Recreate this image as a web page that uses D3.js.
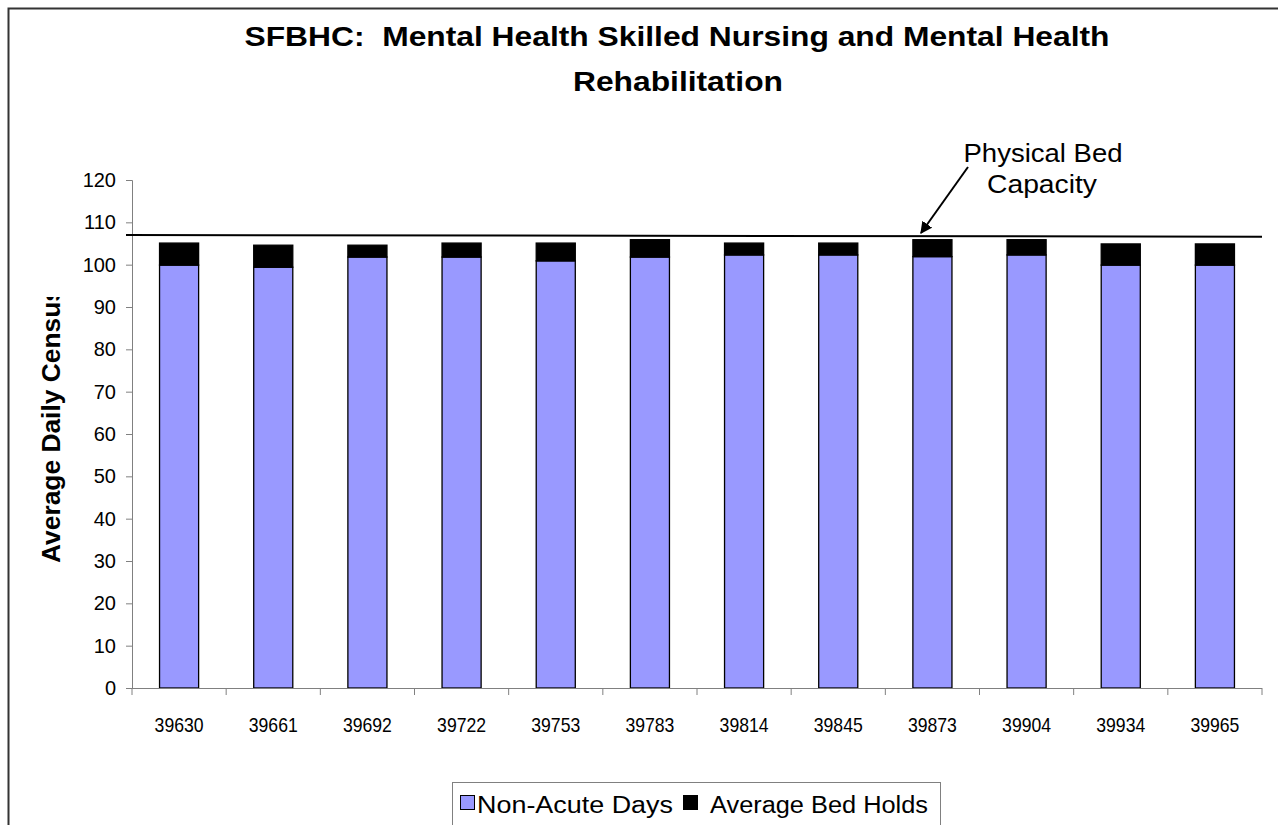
<!DOCTYPE html>
<html>
<head>
<meta charset="utf-8">
<script src="https://cdn.jsdelivr.net/npm/d3@7"></script>
<style>
  html, body { margin: 0; padding: 0; background: #fff; }
  svg { display: block; }
  text { font-family: "Liberation Sans", Arial, sans-serif; fill: #000; }
</style>
</head>
<body>
<svg id="chart" width="1278" height="825"></svg>
<script>
// Monthly census (Excel serial dates as category labels)
const months = ["39630", "39661", "39692", "39722", "39753", "39783",
                "39814", "39845", "39873", "39904", "39934", "39965"];
const nonAcuteDays = [99.9, 99.4, 101.8, 101.8, 100.9, 101.8, 102.3, 102.3, 101.9, 102.3, 99.9, 99.9];
const avgBedHolds  = [5.2, 5.2, 2.8, 3.3, 4.2, 4.1, 2.8, 2.8, 4.0, 3.6, 5.0, 5.0];
const yTicks = [0, 10, 20, 30, 40, 50, 60, 70, 80, 90, 100, 110, 120];
// Physical bed capacity line, value at left and right end
const capacityEnds = [107.0, 106.6];

const seriesNames = ["Non-Acute Days", "Average Bed Holds"];
const seriesColors = ["#9999FF", "#000000"];

const svg = d3.select("#chart");

// Outer chart frame
svg.append("rect")
  .attr("x", 8.5).attr("y", 8.5)
  .attr("width", 1400).attr("height", 1000)
  .attr("fill", "none").attr("stroke", "#333").attr("stroke-width", 2);

const plot = { left: 132, right: 1262, top: 180, bottom: 688 };

const x = d3.scaleBand()
  .domain(months)
  .range([plot.left, plot.right])
  .paddingInner(0.585)
  .paddingOuter(0.2925);

const y = d3.scaleLinear()
  .domain([0, 120])
  .range([plot.bottom, plot.top]);

// Stacked data
const rows = months.map((m, i) => ({ month: m, nonAcute: nonAcuteDays[i], holds: avgBedHolds[i] }));
const stack = d3.stack().keys(["nonAcute", "holds"])(rows);

// Bars
const g = svg.append("g");
stack.forEach((layer, li) => {
  g.selectAll(null)
    .data(layer)
    .join("rect")
    .attr("x", d => x(d.data.month))
    .attr("width", x.bandwidth())
    .attr("y", d => y(d[1]))
    .attr("height", d => y(d[0]) - y(d[1]))
    .attr("fill", seriesColors[li])
    .attr("stroke", "#000")
    .attr("stroke-width", 1.3);
});

// Y axis
const yAxis = d3.axisLeft(y).tickValues(yTicks).tickSize(6).tickPadding(10);
const yg = svg.append("g").attr("transform", `translate(${plot.left},0)`).call(yAxis);
yg.select(".domain").attr("stroke", "#808080").attr("stroke-width", 1);
yg.selectAll(".tick line").attr("stroke", "#808080");
yg.selectAll(".tick text")
  .style("font-family", "'Liberation Sans', Arial, sans-serif")
  .style("font-size", "20px")
  .attr("fill", "#000");

// X axis: line plus ticks at category boundaries
const xg = svg.append("g");
xg.append("line")
  .attr("x1", plot.left).attr("x2", plot.right)
  .attr("y1", plot.bottom + 0.5).attr("y2", plot.bottom + 0.5)
  .attr("stroke", "#808080");
const step = x.step();
const boundaries = d3.range(months.length + 1).map(i => x(months[0]) - x.paddingOuter() * step + i * step);
xg.selectAll(null)
  .data(boundaries)
  .join("line")
  .attr("x1", d => d).attr("x2", d => d)
  .attr("y1", plot.bottom).attr("y2", plot.bottom + 7)
  .attr("stroke", "#808080");
xg.selectAll(null)
  .data(months)
  .join("text")
  .attr("x", d => x(d) + x.bandwidth() / 2)
  .attr("y", 732)
  .attr("text-anchor", "middle")
  .style("font-family", "'Liberation Sans Narrow', 'Arial Narrow', 'Liberation Sans', sans-serif")
  .style("font-size", "21px")
  .attr("textLength", 49)
  .attr("lengthAdjust", "spacingAndGlyphs")
  .text(d => d);

// Capacity line
svg.append("line")
  .attr("x1", 126).attr("x2", plot.right)
  .attr("y1", y(capacityEnds[0])).attr("y2", y(capacityEnds[1]))
  .attr("stroke", "#000").attr("stroke-width", 2);

// Annotation with arrow
const defs = svg.append("defs");
defs.append("marker")
  .attr("id", "arrowHead")
  .attr("viewBox", "0 0 10 10")
  .attr("refX", 9).attr("refY", 5)
  .attr("markerWidth", 6).attr("markerHeight", 6)
  .attr("orient", "auto")
  .append("path").attr("d", "M0,0 L10,5 L0,10 Z").attr("fill", "#000");

svg.append("line")
  .attr("x1", 968).attr("y1", 167)
  .attr("x2", 921).attr("y2", 233)
  .attr("stroke", "#000").attr("stroke-width", 2)
  .attr("marker-end", "url(#arrowHead)");

svg.append("text")
  .attr("x", 1043).attr("y", 162)
  .attr("text-anchor", "middle")
  .style("font-size", "25px")
  .attr("textLength", 159).attr("lengthAdjust", "spacingAndGlyphs")
  .text("Physical Bed");
svg.append("text")
  .attr("x", 1042).attr("y", 193)
  .attr("text-anchor", "middle")
  .style("font-size", "25px")
  .attr("textLength", 110).attr("lengthAdjust", "spacingAndGlyphs")
  .text("Capacity");

// Title
svg.append("text")
  .attr("x", 677).attr("y", 46)
  .attr("text-anchor", "middle")
  .style("font-size", "27px").style("font-weight", "bold")
  .style("white-space", "pre")
  .attr("textLength", 865).attr("lengthAdjust", "spacingAndGlyphs")
  .text("SFBHC:  Mental Health Skilled Nursing and Mental Health");
svg.append("text")
  .attr("x", 678).attr("y", 91)
  .attr("text-anchor", "middle")
  .style("font-size", "27px").style("font-weight", "bold")
  .attr("textLength", 210).attr("lengthAdjust", "spacingAndGlyphs")
  .text("Rehabilitation");

// Y axis title (clipped at the top)
defs.append("clipPath").attr("id", "yTitleClip")
  .append("rect").attr("x", 0).attr("y", 297).attr("width", 120).attr("height", 400);
svg.append("g").attr("clip-path", "url(#yTitleClip)")
  .append("text")
  .attr("transform", "translate(60,563) rotate(-90)")
  .attr("text-anchor", "start")
  .style("font-size", "25px").style("font-weight", "bold")
  .attr("textLength", 276).attr("lengthAdjust", "spacingAndGlyphs")
  .text("Average Daily Census");

// Legend
const lg = svg.append("g");
lg.append("rect")
  .attr("x", 452.5).attr("y", 782.5)
  .attr("width", 488).attr("height", 80)
  .attr("fill", "#fff").attr("stroke", "#808080");
const legendItems = [
  { sx: 460, tx: 477, tw: 196 },
  { sx: 683, tx: 710, tw: 218 }
];
legendItems.forEach((it, i) => {
  lg.append("rect")
    .attr("x", it.sx + 0.5).attr("y", 795.5)
    .attr("width", 14).attr("height", 14)
    .attr("fill", seriesColors[i]).attr("stroke", "#000");
  lg.append("text")
    .attr("x", it.tx).attr("y", 813)
    .style("font-size", "23px")
    .attr("textLength", it.tw).attr("lengthAdjust", "spacingAndGlyphs")
    .text(seriesNames[i]);
});
</script>
</body>
</html>
